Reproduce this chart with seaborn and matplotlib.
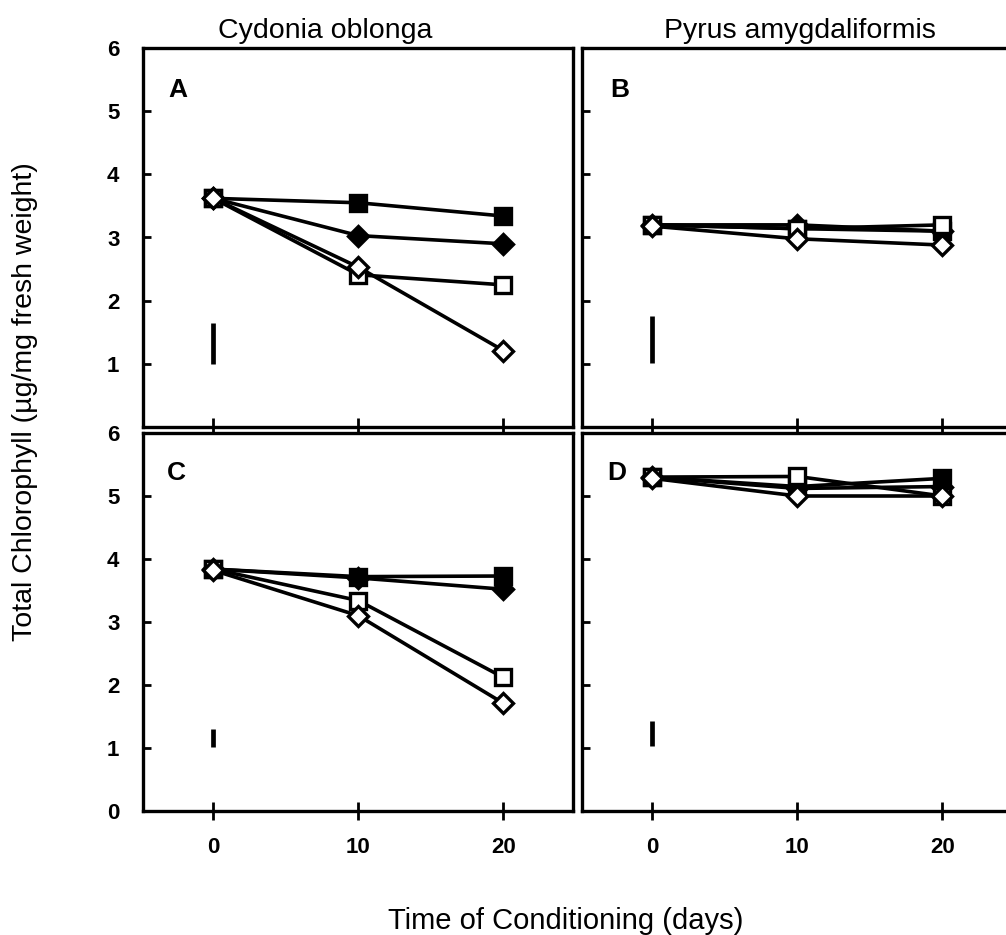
import matplotlib
matplotlib.use("Agg")
import matplotlib.pyplot as plt
import numpy as np
import pandas as pd
import seaborn as sns

# ---------------- data ----------------
days = [0, 10, 20]
species = ["Cydonia oblonga", "Pyrus amygdaliformis"]
panel_labels = ["A", "B", "C", "D"]
series_names = ["filled square", "filled diamond", "open square", "open diamond"]

# Panel A (Cydonia oblonga, top)
A_filled_sq = [3.62, 3.55, 3.34]
A_filled_di = [3.62, 3.03, 2.90]
A_open_sq = [3.62, 2.41, 2.25]
A_open_di = [3.62, 2.53, 1.21]
# Panel B (Pyrus amygdaliformis, top)
B_filled_sq = [3.20, 3.14, 3.10]
B_filled_di = [3.20, 3.20, 3.10]
B_open_sq = [3.20, 3.14, 3.20]
B_open_di = [3.18, 2.98, 2.88]
# Panel C (Cydonia oblonga, bottom)
C_filled_sq = [3.84, 3.72, 3.73]
C_filled_di = [3.84, 3.70, 3.52]
C_open_sq = [3.84, 3.34, 2.12]
C_open_di = [3.82, 3.10, 1.71]
# Panel D (Pyrus amygdaliformis, bottom)
D_filled_sq = [5.30, 5.15, 5.28]
D_filled_di = [5.30, 5.12, 5.15]
D_open_sq = [5.30, 5.31, 5.00]
D_open_di = [5.28, 5.00, 5.00]

# LSD bars at day 0
lsd_low = [1.0, 1.02, 1.02, 1.03]
lsd_high = [1.65, 1.76, 1.30, 1.43]

y_ticks = [0, 1, 2, 3, 4, 5, 6]
x_ticks = [0, 10, 20]

panel_data = {
    "A": [A_filled_sq, A_filled_di, A_open_sq, A_open_di],
    "B": [B_filled_sq, B_filled_di, B_open_sq, B_open_di],
    "C": [C_filled_sq, C_filled_di, C_open_sq, C_open_di],
    "D": [D_filled_sq, D_filled_di, D_open_sq, D_open_di],
}

# ---------------- style ----------------
sns.set_style("ticks")
plt.rcParams["font.family"] = ["Liberation Sans", "DejaVu Sans"]
plt.rcParams["text.color"] = "black"
plt.rcParams["xtick.color"] = "black"
plt.rcParams["ytick.color"] = "black"
plt.rcParams["axes.labelcolor"] = "black"

W, H = 1006, 935
fig = plt.figure(figsize=(W / 100, H / 100), dpi=100)

def ax_rect(left, top, right, bottom):
    return [left / W, 1 - bottom / H, (right - left) / W, (bottom - top) / H]

rects = {
    "A": ax_rect(143, 48, 573, 427),
    "B": ax_rect(582, 48, 1012, 427),
    "C": ax_rect(143, 433, 573, 811),
    "D": ax_rect(582, 433, 1012, 811),
}

styles = [
    dict(marker="s", markersize=11.5, markerfacecolor="black"),
    dict(marker="D", markersize=10.5, markerfacecolor="black"),
    dict(marker="s", markersize=11.5, markerfacecolor="white"),
    dict(marker="D", markersize=10.5, markerfacecolor="white"),
]

letter_pos = {"A": (0.081, 0.888), "B": (0.088, 0.888),
              "C": (0.077, 0.894), "D": (0.081, 0.894)}

for i, key in enumerate(panel_labels):
    ax = fig.add_axes(rects[key])
    for j, vals in enumerate(panel_data[key]):
        sns.lineplot(x=days, y=vals, ax=ax, color="black", linewidth=2.6,
                     markeredgecolor="black", markeredgewidth=2.4,
                     zorder=3 + j, **styles[j])
    ax.vlines([0], lsd_low[i], lsd_high[i], color="black", linewidth=3.4, zorder=2)

    ax.set_xlim(-4.85, 24.8)
    ax.set_ylim(0, 6)
    ax.set_xticks(x_ticks)
    ax.set_yticks(y_ticks)
    for sp in ax.spines.values():
        sp.set_linewidth(2.4)
        sp.set_color("black")
    ax.tick_params(axis="y", direction="in", length=6, width=2, pad=17,
                   labelsize=16, colors="black")
    ax.tick_params(axis="x", direction="inout", length=13, width=2, pad=12,
                   labelsize=16, colors="black")
    for t in ax.get_yticklabels() + ax.get_xticklabels():
        t.set_fontweight("bold")

    top = key in ("A", "B")
    left = key in ("A", "C")
    if top:
        ax.set_xticklabels([])
        ax.set_yticklabels(["", "1", "2", "3", "4", "5", "6"])
    if not left:
        ax.set_yticklabels([])
    ax.set_xlabel("")
    ax.set_ylabel("")
    lx, ly = letter_pos[key]
    ax.text(lx, ly, key, transform=ax.transAxes, fontsize=19, color="black",
            fontweight="bold", ha="center", va="center")

fig.text(325 / W, 1 - 38 / H, species[0], fontsize=20.5, ha="center",
         va="baseline", color="black")
fig.text(800 / W, 1 - 38 / H, species[1], fontsize=20.5, ha="center",
         va="baseline", color="black")
fig.text(25 / W, 1 - 402 / H, "Total Chlorophyll (µg/mg fresh weight)",
         rotation=90, fontsize=20.5, ha="center", va="center", color="black")
fig.text(566 / W, 1 - 929 / H, "Time of Conditioning (days)", fontsize=21,
         ha="center", va="baseline", color="black")

fig.savefig("out.png", dpi=100)
